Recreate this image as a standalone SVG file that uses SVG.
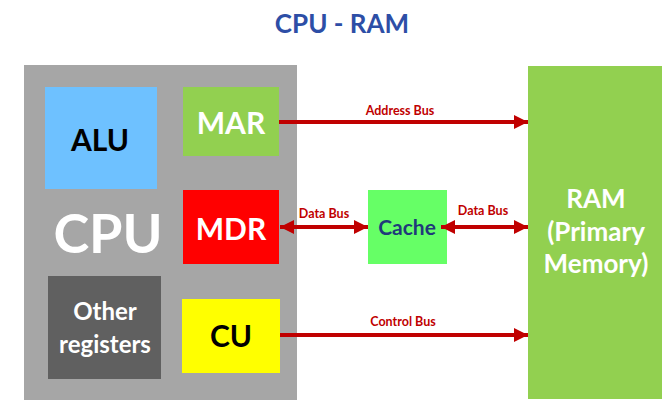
<svg xmlns="http://www.w3.org/2000/svg" width="667" height="408" viewBox="0 0 667 408">
<defs>
<style>
text{font-family:Lato,"Open Sans","Liberation Sans",sans-serif;font-weight:bold;text-anchor:middle}
.w{fill:#fff}
.k{fill:#000}
.big{font-size:30px}
.bus{font-size:12.5px;fill:#C00000}
.ln{stroke:#C00000;stroke-width:4;fill:none}
</style>
<marker id="ah" viewBox="0 0 10 10" refX="10" refY="5" markerWidth="3.5" markerHeight="3.5" orient="auto-start-reverse" markerUnits="strokeWidth">
<path d="M0,0 L10,5 L0,10 Z" fill="#C00000"/>
</marker>
</defs>
<rect width="667" height="408" fill="#fff"/>
<text x="342" y="33" style="font-size:26px;fill:#2D4EA6">CPU - RAM</text>
<g id="cpu">
<rect x="24" y="65" width="273" height="335" fill="#A6A6A6"/>
<text x="108" y="253" class="w" style="font-size:54px">CPU</text>
</g>
<g id="alu">
<rect x="45" y="87" width="112" height="102" fill="#6EC1FF"/>
<text x="100" y="151" class="k big">ALU</text>
</g>
<g id="mar">
<rect x="183" y="87" width="96" height="69" fill="#92D050"/>
<text x="231" y="134" class="w big">MAR</text>
</g>
<g id="mdr">
<rect x="183" y="190" width="96" height="74" fill="#FF0000"/>
<text x="231" y="240" class="w big">MDR</text>
</g>
<g id="other">
<rect x="48" y="276" width="113" height="103" fill="#606060"/>
<text x="105" y="320" class="w" style="font-size:24px">Other</text>
<text x="105" y="353" class="w" style="font-size:24px">registers</text>
</g>
<g id="cu">
<rect x="182" y="299" width="98" height="74" fill="#FFFF00"/>
<text x="231" y="347" class="k big">CU</text>
</g>
<g id="cache">
<rect x="368" y="190" width="79" height="74" fill="#66FF66"/>
<text x="407" y="235" style="font-size:21px;fill:#1F3A7A">Cache</text>
</g>
<g id="ram">
<rect x="528" y="66" width="134" height="333" fill="#92D050"/>
<text x="596" y="208" class="w" style="font-size:26px">RAM</text>
<text x="596" y="241" class="w" style="font-size:26px">(Primary</text>
<text x="596" y="273" class="w" style="font-size:26px">Memory)</text>
</g>
<g id="connectors">
<line x1="279" y1="122" x2="528" y2="122" class="ln" marker-end="url(#ah)"/>
<text x="400" y="115" class="bus">Address Bus</text>
<line x1="280" y1="227" x2="368" y2="227" class="ln" marker-start="url(#ah)" marker-end="url(#ah)"/>
<text x="324" y="218" class="bus">Data Bus</text>
<line x1="441" y1="227" x2="528" y2="227" class="ln" marker-start="url(#ah)" marker-end="url(#ah)"/>
<text x="483" y="215" class="bus">Data Bus</text>
<line x1="280" y1="335" x2="528" y2="335" class="ln" marker-end="url(#ah)"/>
<text x="403" y="326" class="bus">Control Bus</text>
</g>
</svg>
